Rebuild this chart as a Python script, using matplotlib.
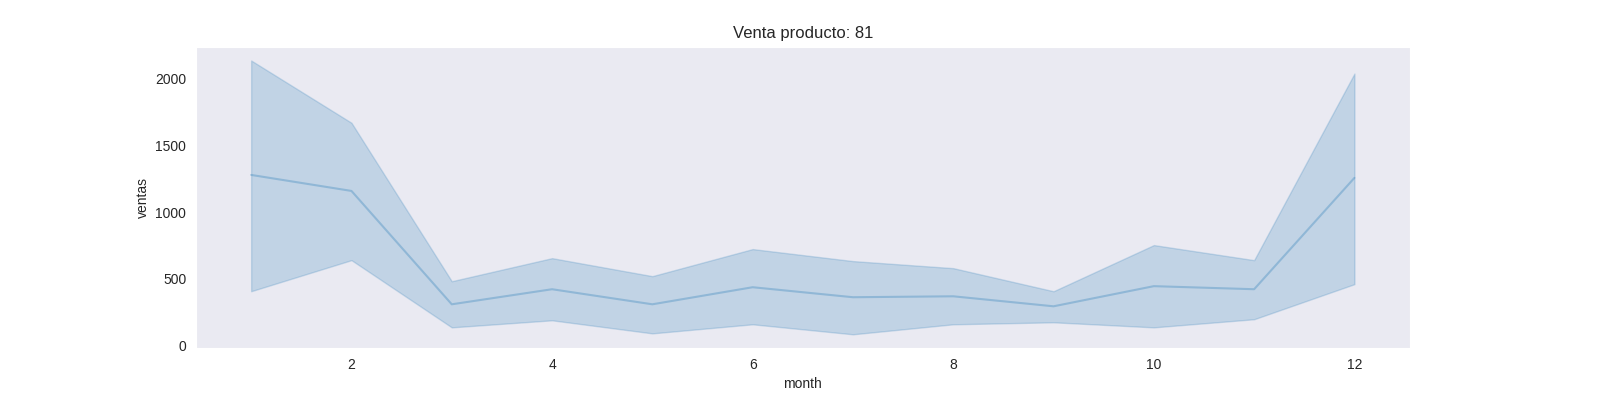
import matplotlib
matplotlib.use("Agg")
import matplotlib.pyplot as plt
import seaborn as sns

sns.set_style("dark")
plt.rcParams["font.family"] = ["Liberation Sans", "DejaVu Sans"]

months = [1, 2, 3, 4, 5, 6, 7, 8, 9, 10, 11, 12]
mean_sales = [1278, 1158, 308, 421, 308, 436, 361, 368, 293, 444, 421, 1256]
upper = [2136, 1669, 481, 654, 519, 722, 632, 579, 406, 752, 639, 2038]
lower = [406, 639, 135, 188, 90, 158, 83, 158, 173, 135, 196, 459]

fig, ax = plt.subplots(figsize=(16, 4), dpi=100)
fig.subplots_adjust(left=0.1225, right=0.881, top=0.883, bottom=0.13)

ax.plot(months, mean_sales, color="#1f77b4", alpha=0.3)
ax.fill_between(months, lower, upper, color="#1f77b4", alpha=0.2,
                edgecolor="#1f77b4", linewidth=1)

ax.set_title("Venta producto: 81", fontsize=12)
ax.set_xlabel("month")
ax.set_ylabel("ventas")
ax.set_xticks([2, 4, 6, 8, 10, 12])
ax.set_yticks([0, 500, 1000, 1500, 2000])

fig.savefig("out.png")
